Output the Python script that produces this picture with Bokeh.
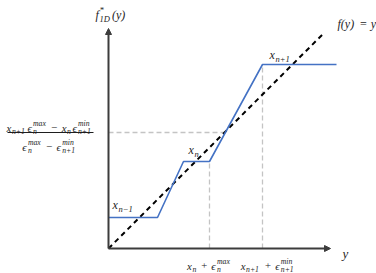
from bokeh.plotting import figure
from bokeh.models import Arrow, NormalHead, ColumnDataSource
from bokeh.embed import file_html
from bokeh.resources import INLINE
from bokeh.core.properties import value

# ---- data (chart units, origin at the axes' crossing) ----
step_x = [0, 49, 75, 101, 154, 228]          # staircase breakpoints
step_y = [31, 31, 87, 87, 184, 184]          # staircase levels
ident_x = [0, 216]                           # f(y) = y
ident_y = [0, 216]
fixed_level = 116                            # fraction level (horizontal guide)
fixed_cross = 116                            # where the guide meets f(y)=y
guide_x = [101, 154]                         # vertical guides
guide_top = [87, 184]
axis_x_end = 222
axis_y_end = 220

# texts as (base, subscript, superscript) pieces; "+"/"−"/"=" get spacing
lbl_xnm1 = [("x", "n−1", "")]
lbl_xn = [("x", "n", "")]
lbl_xnp1 = [("x", "n+1", "")]
tick_a = [("x", "n", ""), ("+", "", ""), ("ϵ", "n", "max")]
tick_b = [("x", "n+1", ""), ("+", "", ""), ("ϵ", "n+1", "min")]
frac_num = [("x", "n+1", ""), ("ϵ", "n", "max"), ("−", "", ""),
            ("x", "n", ""), ("ϵ", "n+1", "min")]
frac_den = [("ϵ", "n", "max"), ("−", "", ""), ("ϵ", "n+1", "min")]
ylabel = [("f", "1D", "*"), ("(y)", "", "")]
ident_label = [("f(y)", "", ""), ("=", "", ""), ("y", "", "")]
xlabel = [("y", "", "")]

TXT = "#1e1e1e"
AXC = "#3c3c3c"
OPS = {"+", "−", "="}

# generous advance widths (em) for an italic serif
CW = {"x": 0.5, "n": 0.56, "ϵ": 0.52, "m": 0.78, "a": 0.54, "i": 0.32,
      "1": 0.56, "D": 0.76, "+": 0.76, "−": 0.76, "f": 0.34,
      "(": 0.36, ")": 0.36, "y": 0.5, "=": 0.72, "*": 0.5}


def tw(s, size):
    return sum(CW.get(c, 0.56) for c in s) * size


def layout(parts, x, yc, size, align="left"):
    small = size * 0.71
    widths = []
    for b, sb, sp in parts:
        w = tw(b, size) + max(tw(sb, small), tw(sp, small))
        if sb or sp:
            w += 0.1 * size
        if b in OPS:
            w += 0.5 * size
        widths.append(w)
    total = sum(widths)
    if align == "center":
        x -= total / 2
    base = yc - 0.23 * size
    out = []
    cx = x
    for (b, sb, sp), w in zip(parts, widths):
        bx = cx + (0.25 * size if b in OPS else 0.0)
        if b:
            out.append((bx, base, b, size))
        sx = bx + tw(b, size)
        if sb:
            out.append((sx, base - 0.3 * size, sb, small))
        if sp:
            out.append((sx, base + 0.42 * size, sp, small))
        cx += w
    return out


pieces = []
pieces += layout(lbl_xnm1, 4, 46, 12)
pieces += layout(lbl_xn, 80, 101, 12)
pieces += layout(lbl_xnp1, 161, 196, 12)
pieces += layout(tick_a, 101, -15, 10.8, "center")
pieces += layout(tick_b, 160, -15, 10.8, "center")
pieces += layout(frac_num, -58.5, 123, 10.8, "center")
pieces += layout(frac_den, -58.5, 104, 10.8, "center")
pieces += layout(ylabel, -13, 236, 12)
pieces += layout(ident_label, 229, 227, 12)
pieces += layout(xlabel, 234, -2, 13)

src = ColumnDataSource(dict(
    x=[q[0] for q in pieces], y=[q[1] for q in pieces],
    text=[q[2] for q in pieces], size=["%.1fpx" % q[3] for q in pieces]))

p = figure(width=376, height=273, x_range=(-108, 268), y_range=(-25, 248),
           output_backend="svg", toolbar_location=None, min_border=0,
           x_axis_location=None, y_axis_location=None, outline_line_color=None)
p.xgrid.visible = False
p.ygrid.visible = False

# guides
p.line([0, fixed_cross], [fixed_level, fixed_level], line_color="#c4c4c4",
       line_width=1.3, line_dash="5 3")
for gx, gt in zip(guide_x, guide_top):
    p.line([gx, gx], [0, gt], line_color="#c4c4c4", line_width=1.3, line_dash="5 3")

# identity line
p.line(ident_x, ident_y, line_color="black", line_width=2, line_dash="5 4")

# staircase
p.line(step_x, step_y, line_color="#4472C4", line_width=1.6)

# axes with arrows
p.add_layout(Arrow(x_start=0, y_start=0, x_end=0, y_end=axis_y_end,
                   line_color=AXC, line_width=2,
                   end=NormalHead(size=6, fill_color=AXC, line_color=AXC)))
p.add_layout(Arrow(x_start=0, y_start=0, x_end=axis_x_end, y_end=0,
                   line_color=AXC, line_width=2,
                   end=NormalHead(size=6, fill_color=AXC, line_color=AXC)))

# all math-like texts
p.text(x="x", y="y", text="text", source=src, text_font=value("Liberation Serif"),
       text_font_style="italic", text_font_size="size", text_baseline="alphabetic",
       text_color=TXT)

# fraction bar
p.line([-101, -15], [fixed_level, fixed_level], line_color=TXT, line_width=1)

open("out.html", "w").write(file_html(p, INLINE))
